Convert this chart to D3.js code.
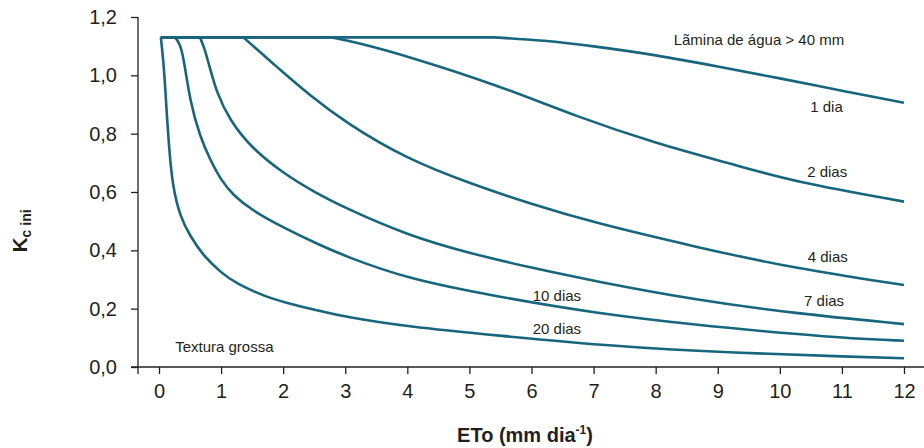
<!DOCTYPE html>
<html>
<head>
<meta charset="utf-8">
<script src="https://d3js.org/d3.v7.min.js"></script>
<style>
  body { margin: 0; background: #fff; }
  text { font-family: "Liberation Sans", Arial, sans-serif; fill: #231f20; }
</style>
</head>
<body>
<script>
// ETo (mm/dia) and Kc ini, one pair of arrays per curve
var etoLamina = [0.03, 5.4, 6.2, 7, 8, 9, 10, 11, 12];
var kcLamina  = [1.13, 1.13, 1.12, 1.10, 1.07, 1.03, 0.99, 0.947, 0.906];

var eto1 = [0.03, 2.78, 3.2, 4, 5.45, 6.73, 8, 9.28, 10.23, 12];
var kc1  = [1.13, 1.13, 1.112, 1.066, 0.967, 0.858, 0.767, 0.693, 0.635, 0.567];

var eto2 = [0.03, 1.36, 1.6, 1.84, 2, 2.4, 3, 4, 5, 6, 7, 8.64, 10.23, 12];
var kc2  = [1.13, 1.13, 1.085, 1.04, 1.01, 0.937, 0.838, 0.712, 0.63, 0.558, 0.495, 0.412, 0.338, 0.281];

var eto4 = [0.03, 0.66, 0.72, 0.79, 0.93, 1.14, 1.47, 2, 2.5, 3, 4, 5, 6, 7, 8.64, 10.23, 12];
var kc4  = [1.13, 1.13, 1.1, 1.05, 0.938, 0.847, 0.755, 0.664, 0.6, 0.545, 0.452, 0.39, 0.34, 0.295, 0.23, 0.184, 0.147];

var eto7 = [0.03, 0.26, 0.33, 0.39, 0.5, 0.66, 0.82, 1, 1.2, 1.5, 2, 2.59, 3, 4, 5.45, 7.04, 8.64, 10.23, 11.18, 12];
var kc7  = [1.13, 1.13, 1.11, 1.07, 0.91, 0.79, 0.712, 0.64, 0.588, 0.537, 0.478, 0.418, 0.38, 0.302, 0.241, 0.184, 0.144, 0.113, 0.097, 0.09];

var eto20 = [0.03, 0.07, 0.1, 0.13, 0.17, 0.22, 0.34, 0.5, 0.7, 1, 1.25, 1.73, 2, 2.59, 3, 4, 5.45, 7.36, 9.27, 11.18, 12];
var kc20  = [1.13, 1.05, 0.96, 0.85, 0.733, 0.62, 0.515, 0.45, 0.385, 0.323, 0.285, 0.24, 0.223, 0.192, 0.172, 0.138, 0.108, 0.07, 0.048, 0.035, 0.03];

var xTicks = [0, 1, 2, 3, 4, 5, 6, 7, 8, 9, 10, 11, 12];
var yTicks = [0, 0.2, 0.4, 0.6, 0.8, 1.0, 1.2];
var yTickLabels = ["0,0", "0,2", "0,4", "0,6", "0,8", "1,0", "1,2"];

var curveLabels = ["Lãmina de água > 40 mm", "1 dia", "2 dias", "4 dias", "7 dias", "10 dias", "20 dias", "Textura grossa"];
var labelEto = [8.29, 10.49, 10.44, 10.45, 10.39, 6.02, 6.02, 0.26];
var labelKc  = [1.104, 0.874, 0.651, 0.36, 0.209, 0.226, 0.113, 0.051];

var lineColor = "#17667d";
var axisColor = "#231f20";

var svg = d3.select("body")
            .append("svg")
            .attr("width", 924)
            .attr("height", 448);

var x = d3.scaleLinear().domain([0, 12]).range([159, 904]);
var y = d3.scaleLinear().domain([0, 1.2]).range([367, 17]);
var axisX0 = 138;

// x axis
var gx = svg.append("g")
    .attr("transform", "translate(0," + y(0) + ")")
    .call(d3.axisBottom(x).tickValues(xTicks).tickSize(7).tickPadding(10).tickFormat(d3.format("d")));
gx.select(".domain").remove();
gx.attr("font-size", 20).attr("font-family", null).attr("color", axisColor);
gx.selectAll("line").attr("stroke-width", 1.3);
svg.append("line")
    .attr("x1", axisX0 - 7).attr("x2", 924)
    .attr("y1", y(0)).attr("y2", y(0))
    .attr("stroke", axisColor).attr("stroke-width", 1.3);

// y axis
var gy = svg.append("g")
    .attr("transform", "translate(" + axisX0 + ",0)")
    .call(d3.axisLeft(y).tickValues(yTicks).tickSize(7).tickPadding(14)
          .tickFormat(function(d, i) { return yTickLabels[i]; }));
gy.select(".domain").remove();
gy.attr("font-size", 20).attr("font-family", null).attr("color", axisColor);
gy.selectAll("line").attr("stroke-width", 1.3);
svg.append("line")
    .attr("x1", axisX0).attr("x2", axisX0)
    .attr("y1", y(1.2)).attr("y2", y(0) + 7)
    .attr("stroke", axisColor).attr("stroke-width", 1.3);

// curves: straight plateau, then a smooth drop that leaves it at a corner
var series = [
  d3.zip(etoLamina, kcLamina),
  d3.zip(eto1, kc1),
  d3.zip(eto2, kc2),
  d3.zip(eto4, kc4),
  d3.zip(eto7, kc7),
  d3.zip(eto20, kc20)
];

var flatLine = d3.line()
    .x(function(d) { return x(d[0]); })
    .y(function(d) { return y(d[1]); });
var dropLine = d3.line()
    .x(function(d) { return x(d[0]); })
    .y(function(d) { return y(d[1]); })
    .curve(d3.curveBasis);

function curvePath(pts) {
  var k = 0;
  while (k + 1 < pts.length && pts[k + 1][1] === pts[0][1]) k++;
  var d = dropLine(pts.slice(k));
  if (k > 0) d = flatLine(pts.slice(0, k + 1)) + d;
  return d;
}

svg.selectAll("path.curve")
    .data(series)
    .enter()
    .append("path")
    .attr("class", "curve")
    .attr("d", curvePath)
    .attr("fill", "none")
    .attr("stroke", lineColor)
    .attr("stroke-width", 2.6)
    .attr("stroke-linejoin", "round");

// labels
svg.selectAll("text.lbl")
    .data(curveLabels)
    .enter()
    .append("text")
    .attr("class", "lbl")
    .attr("x", function(d, i) { return x(labelEto[i]); })
    .attr("y", function(d, i) { return y(labelKc[i]); })
    .attr("font-size", 15)
    .text(function(d) { return d; });

// axis titles
var xt = svg.append("text")
    .attr("x", 525).attr("y", 442)
    .attr("text-anchor", "middle")
    .attr("font-size", 20)
    .attr("font-weight", "bold");
xt.append("tspan").text("ETo (mm dia");
xt.append("tspan").attr("font-size", 12).attr("dy", -8).text("-1");
xt.append("tspan").attr("dy", 8).text(")");

var yt = svg.append("text")
    .attr("transform", "translate(27,231) rotate(-90)")
    .attr("text-anchor", "middle")
    .attr("font-weight", "bold");
yt.append("tspan").attr("font-size", 21).text("K");
yt.append("tspan").attr("font-size", 14).attr("dy", 4).text("c ini");
</script>
</body>
</html>
